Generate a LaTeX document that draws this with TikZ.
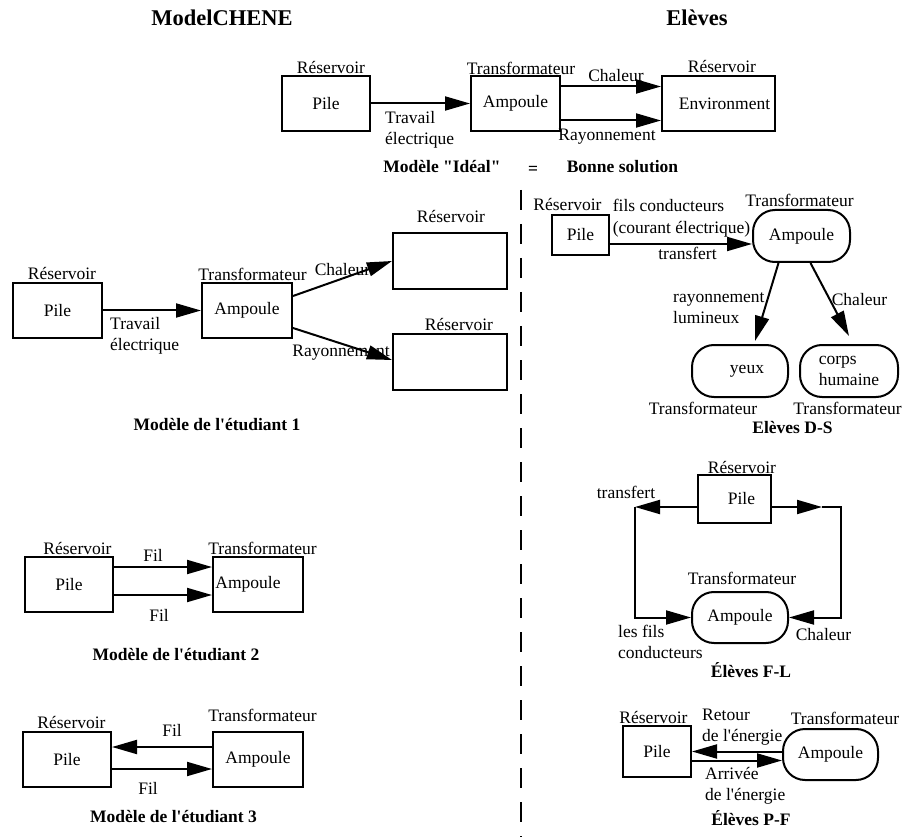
\documentclass[tikz,border=0pt]{standalone}
\usepackage{fontspec}
\setmainfont{Liberation Serif}
\usetikzlibrary{arrows.meta,positioning}
\newcommand{\figfont}{\fontsize{17.5}{20.5}\selectfont}
\newcommand{\ap}{\textquotesingle}
\tikzset{
  box/.style={draw=black,line width=2pt,inner sep=0pt,minimum height=55pt,
              font=\figfont},
  roundbox/.style={box,rounded corners=22pt,minimum height=51pt},
  lbl/.style={inner sep=0pt,font=\figfont},
  lblleft/.style={inner sep=0pt,font=\figfont,align=left,anchor=west},
  capt/.style={inner sep=0pt,font=\figfont\bfseries},
  head/.style={inner sep=0pt,font=\fontsize{22.5}{26}\selectfont\bfseries},
  arr/.style={-{Triangle[length=25pt,width=14pt]},line width=2pt},
  divline/.style={line width=2pt,dash pattern=on 20pt off 14pt}
}
\begin{document}
\begin{tikzpicture}[x=1pt,y=-1pt]
    \useasboundingbox (0,0) rectangle (903,837);
    \node[head] (hmodel) at (222,18) {ModelCHENE};
    \node[head] (heleves) at (697,18) {Elèves};

    \node[box,minimum width=88pt] (pileA) at (326,103.5) {Pile};
    \node[box,minimum width=89pt] (ampA) at (515.5,103.5) {Ampoule};
    \node[box,minimum width=113pt] (envA) at (718.5,103.5) {\hspace*{12pt}Environment};
    \node[lbl] (resA) at (331,68) {Réservoir};
    \node[lbl] (trA) at (521,68) {Transformateur};
    \node[lbl] (resAb) at (722,67) {Réservoir};
    \draw[arr] (pileA) -- (ampA);
    \draw[arr] ([yshift=17pt]ampA.east) -- ([yshift=17pt]envA.west);
    \draw[arr] ([yshift=-17pt]ampA.east) -- ([yshift=-17pt]envA.west);
    \node[lblleft] (travA) at (385,130) {Travail\\électrique};
    \node[lbl] (chalA) at (616,76) {Chaleur};
    \node[lbl] (rayA) at (607,137) {Rayonnement};
    \node[capt] (captA) at (442,167) {Modèle \textquotedbl Idéal\textquotedbl};
    \node[capt] (eqA) at (533,170) {=};
    \node[capt] (bonA) at (622.5,167) {Bonne solution};

    \coordinate (divtop) at (521,190);
    \coordinate (divbot) at (521,837);
    \draw[divline] (divtop) -- (divbot);

    \node[box,minimum width=89pt] (pileB) at (57.5,310.5) {Pile};
    \node[box,minimum width=90pt] (ampB) at (247,310.5) {Ampoule};
    \node[box,minimum width=114pt,minimum height=56pt] (resBu) at (450,261) {};
    \node[box,minimum width=114pt,minimum height=56pt] (resBd) at (450,362) {};
    \node[lbl] (resB) at (62,274) {Réservoir};
    \node[lbl] (trB) at (252.5,274) {Transformateur};
    \node[lbl] (resBul) at (451,217) {Réservoir};
    \node[lbl] (resBdl) at (459,325) {Réservoir};
    \draw[arr] (pileB) -- (ampB);
    \draw[arr] ([yshift=14.5pt]ampB.east) -- (resBu.west);
    \draw[arr] ([yshift=-17.5pt]ampB.east) -- ([yshift=2pt]resBd.west);
    \node[lblleft] (travB) at (110,336) {Travail\\électrique};
    \node[lbl] (chalB) at (342.5,270) {Chaleur};
    \node[lbl] (rayB) at (341,353) {Rayonnement};
    \node[capt] (captB) at (217,425) {Modèle de l\ap étudiant 1};

    \node[box,minimum width=88pt] (pileC) at (69,584.5) {Pile};
    \node[box,minimum width=90pt] (ampC) at (258,584.5) {Ampoule\hspace*{20pt}};
    \node[lbl] (resC) at (77.5,548) {Réservoir};
    \node[lbl] (trC) at (262.5,548) {Transformateur};
    \draw[arr] ([yshift=17.5pt]pileC.east) -- ([yshift=17.5pt]ampC.west);
    \draw[arr] ([yshift=-10.5pt]pileC.east) -- ([yshift=-10.5pt]ampC.west);
    \node[lbl] (filCu) at (153,555) {Fil};
    \node[lbl] (filCd) at (159,615) {Fil};
    \node[capt] (captC) at (176,655) {Modèle de l\ap étudiant 2};

    \node[box,minimum width=88pt] (pileD) at (67,759.5) {Pile};
    \node[box,minimum width=90pt] (ampD) at (258,759.5) {Ampoule};
    \node[lbl] (resD) at (71.5,722) {Réservoir};
    \node[lbl] (trD) at (262.5,715) {Transformateur};
    \draw[arr] ([yshift=12.5pt]ampD.west) -- ([yshift=12.5pt]pileD.east);
    \draw[arr] ([yshift=-9.5pt]pileD.east) -- ([yshift=-9.5pt]ampD.west);
    \node[lbl] (filDu) at (172,730) {Fil};
    \node[lbl] (filDd) at (148,788) {Fil};
    \node[capt] (captD) at (173.5,817) {Modèle de l\ap étudiant 3};

    \node[box,minimum width=57pt,minimum height=40pt] (pileE) at (580.5,235) {Pile};
    \node[roundbox,minimum width=97pt,minimum height=52pt] (ampE) at (801.5,236) {Ampoule};
    \node[roundbox,minimum width=96pt,minimum height=52pt] (yeuxE) at (740,371) {\hspace*{14pt}yeux};
    \node[roundbox,minimum width=98pt,minimum height=52pt,align=left] (corpsE) at (849,371) {corps\\humaine};
    \node[lbl] (resE) at (567.5,205) {Réservoir};
    \node[lbl] (filsE) at (668.5,205) {fils conducteurs};
    \node[lbl] (courE) at (681.5,229) {(courant électrique)};
    \node[lbl] (transE) at (687.5,253) {transfert};
    \node[lbl] (trE) at (799.5,200) {Transformateur};
    \coordinate (pfE) at ([yshift=-9pt]pileE.east);
    \draw[arr] (pfE) -- (pfE -| ampE.west);
    \draw[arr] ([xshift=-23pt]ampE.south) -- ([xshift=15pt,yshift=3pt]yeuxE.north);
    \draw[arr] ([xshift=9pt]ampE.south) -- ([yshift=8pt]corpsE.north);
    \node[lblleft] (rayE) at (673,308) {rayonnement\\lumineux};
    \node[lbl] (chalE) at (859.5,300) {Chaleur};
    \node[lbl] (trEy) at (703,408) {Transformateur};
    \node[lbl] (trEc) at (847.5,408) {Transformateur};
    \node[capt] (captE) at (792.5,428) {Elèves D-S};

    \node[box,minimum width=73pt,minimum height=48pt] (pileF) at (734.5,499) {\hspace*{14pt}Pile};
    \node[roundbox,minimum width=96pt] (ampF) at (740,617.5) {Ampoule};
    \node[lbl] (resF) at (742,467) {Réservoir};
    \node[lbl] (trF) at (742,578) {Transformateur};
    \coordinate (flL) at (635,507);
    \coordinate (flRm) at (822,507);
    \coordinate (flR) at (841,507);
    \draw[arr] ([yshift=-8pt]pileF.west) -- (flL);
    \draw[arr] (flL) |- (ampF.west);
    \draw[arr] ([yshift=-8pt]pileF.east) -- (flRm);
    \draw[arr] (flRm) -- (flR) |- (ampF.east);
    \node[lbl] (transF) at (626,492) {transfert};
    \node[lblleft] (filsF) at (618,642) {les fils\\conducteurs};
    \node[lbl] (chalF) at (823.5,635) {Chaleur};
    \node[capt] (captF) at (751,670) {Élèves F-L};

    \node[box,minimum width=68pt,minimum height=51pt] (pileG) at (657,751.5) {Pile};
    \node[roundbox,minimum width=95pt] (ampG) at (830.5,754.5) {Ampoule};
    \node[lbl] (resG) at (653.5,717) {Réservoir};
    \node[lbl] (trG) at (845,718) {Transformateur};
    \draw[arr] (ampG.west |- pileG.east) -- (pileG.east);
    \coordinate (pfG) at ([yshift=-9pt]pileG.east);
    \draw[arr] (pfG) -- (pfG -| ampG.west);
    \node[lblleft] (retG) at (702,727) {Retour\\de l\ap énergie};
    \node[lblleft] (arrG) at (705,786) {Arrivée\\de l\ap énergie};
    \node[capt] (captG) at (751,818) {Élèves P-F};
\end{tikzpicture}
\end{document}
